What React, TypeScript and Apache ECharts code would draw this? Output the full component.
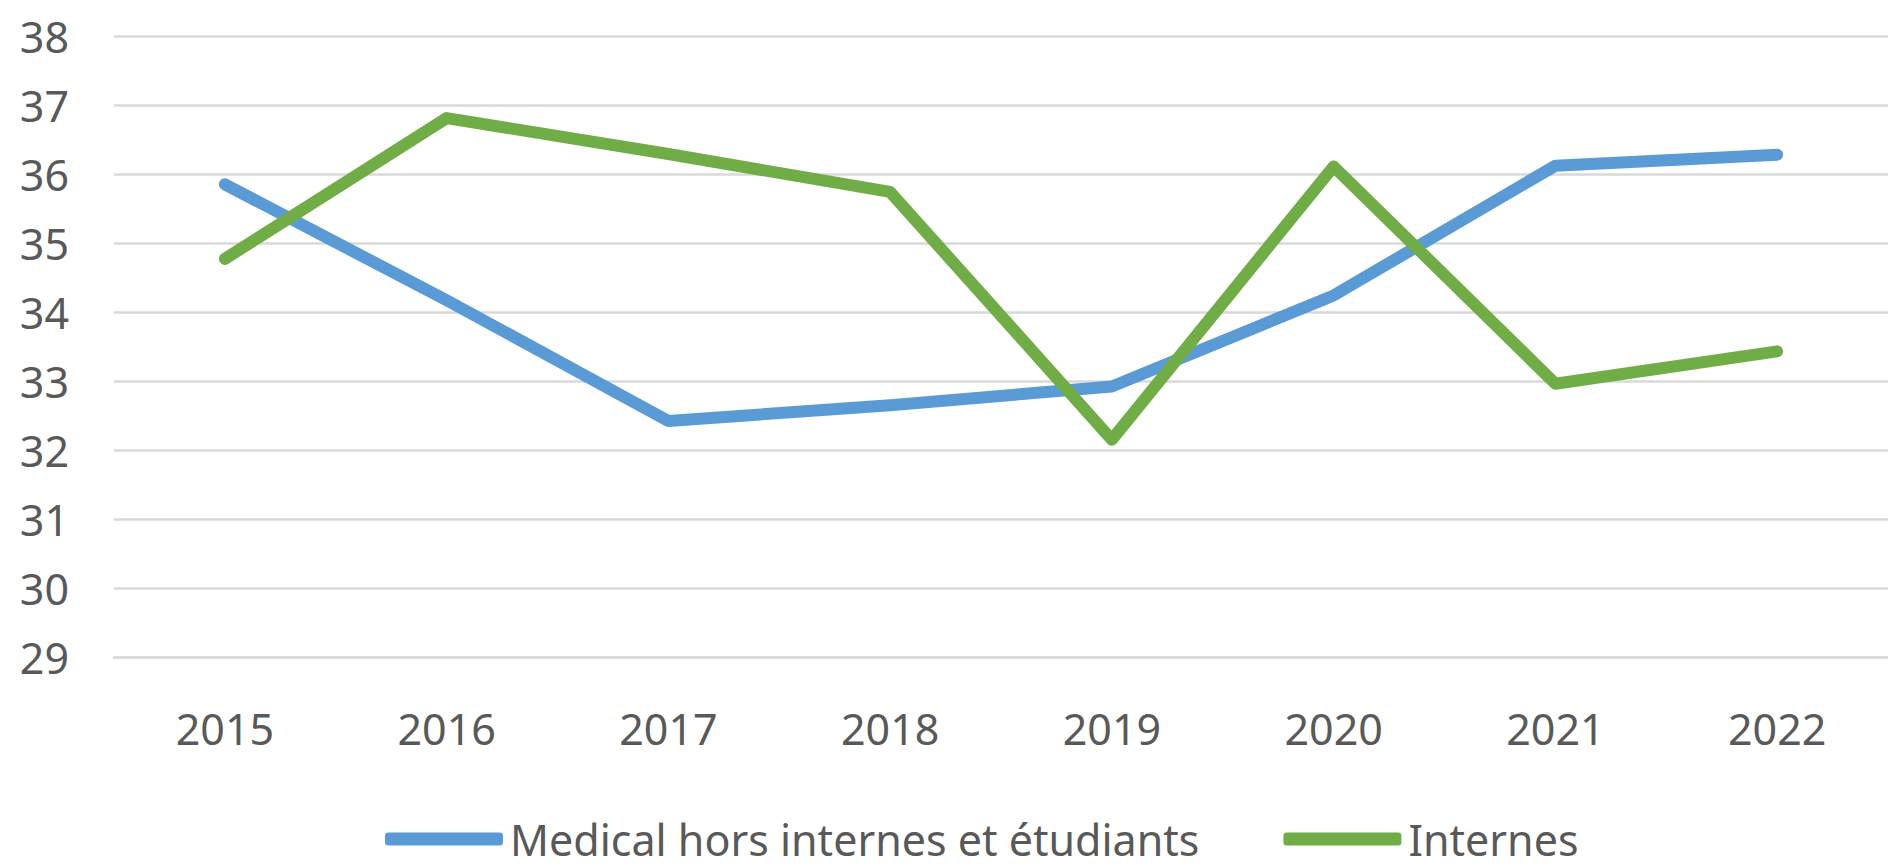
import React, { useEffect, useRef } from "react";
import * as echarts from "echarts";

const years = ["2015", "2016", "2017", "2018", "2019", "2020", "2021", "2022"];
const medical = [35.85, 34.17, 32.42, 32.65, 32.92, 34.24, 36.12, 36.28];
const internes = [34.77, 36.81, 36.29, 35.74, 32.15, 36.11, 32.96, 33.43];
const seriesNames = ["Medical hors internes et étudiants", "Internes"];
const yMin = 29;
const yMax = 38;

export default function App() {
  const ref = useRef<HTMLDivElement>(null);
  useEffect(() => {
    if (!ref.current) return;
    const chart = echarts.init(ref.current, undefined, { renderer: "svg" });
    const font = "'Noto Sans', sans-serif";
    chart.setOption({
      animation: false,
      backgroundColor: "#ffffff",
      grid: { left: 114, right: -14, top: 36, bottom: 867 - 657 },
      legend: {
        left: 385,
        top: 816,
        padding: 0,
        itemWidth: 118,
        itemHeight: 13,
        itemGap: 84,
        icon: "roundRect",
        textStyle: {
          fontFamily: font,
          fontSize: 43,
          lineHeight: 46,
          color: "#595959",
          padding: [0, 0, 0, 2],
        },
        data: seriesNames,
      },
      xAxis: {
        type: "category",
        data: years,
        boundaryGap: true,
        axisLine: { show: true, lineStyle: { color: "#d9d9d9", width: 2.5 } },
        axisTick: { show: false },
        axisLabel: { fontFamily: font, fontSize: 43, color: "#595959", margin: 50 },
      },
      yAxis: {
        type: "value",
        min: yMin,
        max: yMax,
        interval: 1,
        axisLine: { show: false },
        axisTick: { show: false },
        axisLabel: { fontFamily: font, fontSize: 43, color: "#595959", margin: 45 },
        splitLine: { lineStyle: { color: "#d9d9d9", width: 2.5 } },
      },
      series: [
        {
          name: seriesNames[0],
          type: "line",
          data: medical,
          symbol: "none",
          color: "#5B9BD5",
          lineStyle: { width: 12, color: "#5B9BD5", cap: "round", join: "round" },
        },
        {
          name: seriesNames[1],
          type: "line",
          data: internes,
          symbol: "none",
          color: "#70AD47",
          lineStyle: { width: 12, color: "#70AD47", cap: "round", join: "round" },
        },
      ],
    });
    return () => chart.dispose();
  }, []);
  return (
    <div
      ref={ref}
      style={{ position: "absolute", left: 0, top: 0, width: 1888, height: 867 }}
    />
  );
}
